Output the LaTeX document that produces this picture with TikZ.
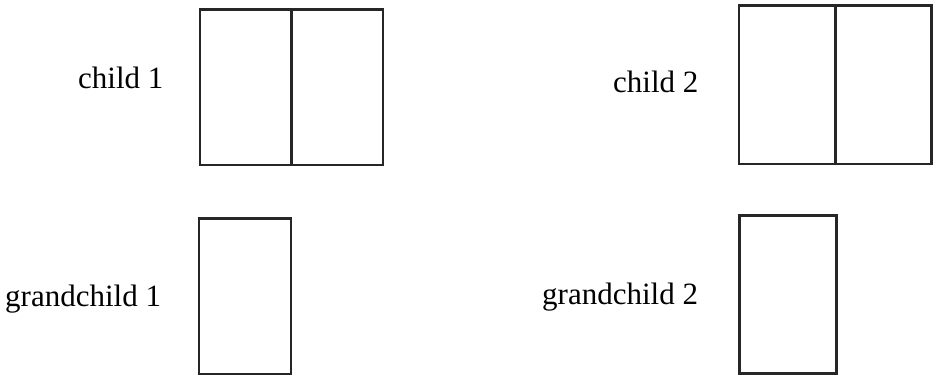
\documentclass[tikz,border=0pt]{standalone}
\usepackage{fontspec}
\setmainfont{Liberation Serif}
\begin{document}
\begin{tikzpicture}[x=1pt,y=-1pt,
  lbl/.style={anchor=base west,inner sep=0pt,font=\fontsize{31}{36}\selectfont},
  box/.style={draw=black!85,line width=2.5pt,inner sep=0pt,rectangle}]
\useasboundingbox (0,0) rectangle (940,382);
\node[lbl] (l1) at (78,89) {child 1};
\node[lbl] (l2) at (613,93) {child 2};
\node[lbl] (l3) at (5,306) {grandchild 1};
\node[lbl] (l4) at (542,304) {grandchild 2};
\node[box,minimum width=183pt,minimum height=155.5pt] (c1) at (291.5,87.2) {};
\draw[line width=2.5pt,draw=black!85] (c1.north) -- (c1.south);
\node[box,minimum width=192.7pt,minimum height=158.3pt] (c2) at (835.3,84.9) {};
\draw[line width=2.5pt,draw=black!85] (c2.north) -- (c2.south);
\node[box,minimum width=91.7pt,minimum height=155.7pt] (g1) at (244.9,296.2) {};
\node[box,minimum width=97.4pt,minimum height=157.6pt] (g2) at (788,294.5) {};
\end{tikzpicture}
\end{document}
